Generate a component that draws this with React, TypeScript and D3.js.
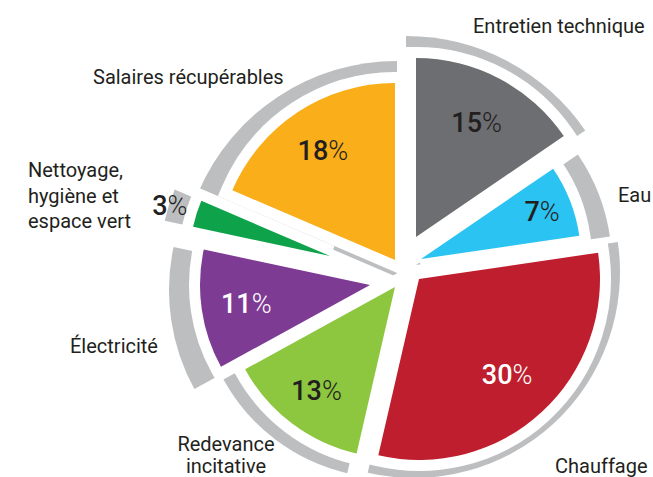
import React from "react";
import * as d3 from "d3";

// ---- data ----
const categories = [
  "Entretien technique",
  "Eau",
  "Chauffage",
  "Redevance incitative",
  "Électricité",
  "Nettoyage, hygiène et espace vert",
  "Salaires récupérables",
];
const values = [15, 7, 30, 13, 11, 3, 18];
const sliceColors = ["#6d6e71", "#2bc4f2", "#be1e2d", "#8dc63f", "#7d3b94", "#0ea24b", "#f9ae1a"];
const pctColors = ["#231f20", "#231f20", "#ffffff", "#231f20", "#ffffff", "#231f20", "#231f20"];
// category label lines
const labelLines = [
  ["Entretien technique"],
  ["Eau"],
  ["Chauffage"],
  ["Redevance", "incitative"],
  ["Électricité"],
  ["Nettoyage,", "hygiène et", "espace vert"],
  ["Salaires récupérables"],
];

// ---- layout (styling) ----
const W = 653;
const H = 477;
const CX = 400;
const CY = 265;
const explode = [[16, -28], [21, -6], [19, 14], [-5, 22], [-30, 20], [-70, -9], [-5, -5]];
const radii = [179, 160, 181, 171, 170, 140, 177];
const shadowShift = [[-10, 16], [-5, 6], [-5, -7], [-5, 1], [5, 5], [0, 0], [2, 17]];
const shadowRadii = [217, 196, 206, 190, 206, 169, 216];
const labelRadius = [130, 130, 130, 130, 125, 168, 131];
const GAP = 11;
const RING = "#bcbec0";
const labelPos: [number, number, string, number][] = [
  [473, 33, "start", 25],
  [618, 202, "start", 25],
  [555, 473, "start", 25],
  [226, 451, "middle", 22],
  [70, 353, "start", 25],
  [28, 177, "start", 25.5],
  [93, 84, "start", 25],
];
const FONT = "Roboto, 'Open Sans', sans-serif";

export default function App() {
  const pie = d3.pie<number>().value((d) => d).sort(null);
  const arcs = pie(values);
  const arc = d3.arc<any>();

  return (
    <svg
      width={W}
      height={H}
      style={{ position: "absolute", left: 0, top: 0, background: "#fff" }}
      fontFamily={FONT}
    >
      {/* gray shadow wedges */}
      <g>
        {arcs.map((a, i) => (
          <path
            key={"s" + i}
            d={arc({ innerRadius: 0, outerRadius: shadowRadii[i], startAngle: a.startAngle, endAngle: a.endAngle }) || ""}
            transform={`translate(${CX + explode[i][0] + shadowShift[i][0]},${CY + explode[i][1] + shadowShift[i][1]})`}
            fill={RING}
          />
        ))}
      </g>
      {/* white halos */}
      <g>
        {arcs.map((a, i) => (
          <path
            key={"h" + i}
            d={arc({ innerRadius: 0, outerRadius: radii[i], startAngle: a.startAngle, endAngle: a.endAngle }) || ""}
            transform={`translate(${CX + explode[i][0]},${CY + explode[i][1]})`}
            fill="#fff"
            stroke="#fff"
            strokeWidth={GAP * 2}
            strokeLinejoin="miter"
          />
        ))}
      </g>
      {/* colored slices */}
      <g>
        {arcs.map((a, i) => (
          <path
            key={"c" + i}
            d={arc({ innerRadius: 0, outerRadius: radii[i], startAngle: a.startAngle, endAngle: a.endAngle }) || ""}
            transform={`translate(${CX + explode[i][0]},${CY + explode[i][1]})`}
            fill={sliceColors[i]}
          />
        ))}
      </g>
      {/* percentages */}
      <g>
        {arcs.map((a, i) => {
          const [x, y] = arc.centroid({
            innerRadius: labelRadius[i],
            outerRadius: labelRadius[i],
            startAngle: a.startAngle,
            endAngle: a.endAngle,
          });
          return (
            <text
              key={"p" + i}
              x={CX + explode[i][0] + x}
              y={CY + explode[i][1] + y}
              dy="0.36em"
              textAnchor="middle"
              fontSize={27}
              fill={pctColors[i]}
            >
              <tspan fontWeight={500}>{values[i]}</tspan>
              <tspan fontWeight={300}>%</tspan>
            </text>
          );
        })}
      </g>
      {/* category labels */}
      <g>
        {categories.map((c, i) => (
          <text
            key={"l" + i}
            x={labelPos[i][0]}
            y={labelPos[i][1]}
            textAnchor={labelPos[i][2]}
            fontSize={20}
            fill="#231f20"
          >
            {labelLines[i].map((ln, j) => (
              <tspan key={j} x={labelPos[i][0]} dy={j === 0 ? 0 : labelPos[i][3]}>
                {ln}
              </tspan>
            ))}
          </text>
        ))}
      </g>
    </svg>
  );
}
